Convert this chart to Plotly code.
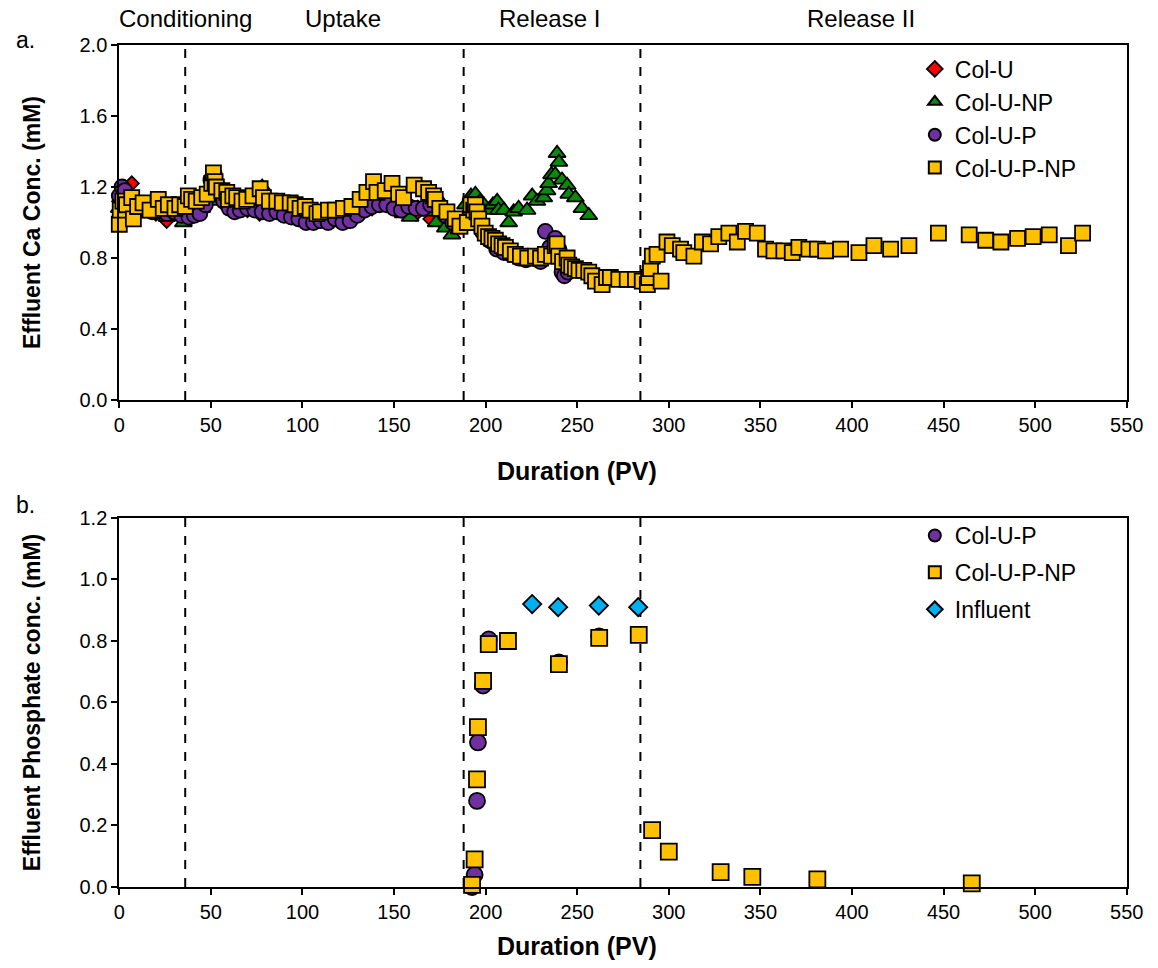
import plotly.graph_objects as go

# ---------------- Panel a: effluent Ca concentration ----------------
colu_x = [0, 3, 6.8, 10, 15, 20, 25.9, 30, 35, 40, 46, 52, 58, 64, 70, 76.6, 82, 90, 98,
          106, 114, 122, 130, 138, 146, 154, 162, 169.9, 176, 182, 187]
colu_y = [1.12, 1.15, 1.22, 1.10, 1.08, 1.05, 1.01, 1.05, 1.06, 1.08, 1.10, 1.15, 1.10, 1.08,
          1.07, 1.05, 1.06, 1.05, 1.04, 1.03, 1.02, 1.03, 1.05, 1.08, 1.10, 1.08, 1.05, 1.02,
          1.00, 0.98, 1.00]

colunp_x = [0, 3, 6, 10, 14, 18, 22, 26, 30, 35, 40, 45, 50, 55, 60, 65, 70, 75, 78, 82, 86,
            90, 95, 100, 105, 110, 115, 120, 125, 130, 135, 140, 145, 150, 155, 158.8, 163,
            168, 173, 178, 181.6, 185.4, 189, 192, 194.4, 197, 199, 201.6, 204, 206.3, 207,
            210, 212.6, 215.3, 218, 222.6, 225.4, 228, 231.7, 233.5, 234.4, 236, 238, 239,
            240, 241.7, 244.5, 245.4, 249, 252.6, 256.3]
colunp_y = [1.08, 1.10, 1.12, 1.06, 1.05, 1.07, 1.05, 1.03, 1.04, 1.00, 1.05, 1.08, 1.12, 1.15,
            1.10, 1.08, 1.10, 1.12, 1.20, 1.10, 1.08, 1.06, 1.05, 1.03, 1.02, 1.03, 1.04, 1.02,
            1.03, 1.05, 1.10, 1.12, 1.13, 1.10, 1.05, 1.03, 1.08, 1.06, 1.00, 0.97, 0.93, 0.96,
            1.10, 1.15, 1.16, 1.12, 1.10, 1.07, 1.10, 1.12, 1.07, 1.07, 1.00, 1.06, 1.08, 1.07,
            1.15, 1.12, 1.14, 1.18, 1.22, 1.27, 1.27, 1.39, 1.34, 1.24, 1.21, 1.16, 1.14, 1.08,
            1.04]

colup_x = [0, 1.5, 3, 5, 8, 11, 14, 18, 22, 26, 30, 34, 38, 41, 44, 47, 50, 52, 54, 57, 60,
           63, 66, 70, 74, 78, 82, 86, 90, 94, 98, 102, 106, 110, 114, 118, 122, 126, 130, 134,
           138, 142, 146, 150, 154, 158, 162, 166, 170, 174, 178, 182, 186, 190, 194, 198, 202,
           206, 210, 214, 218, 222, 226, 230, 232.6, 235, 238, 240, 241.7, 243, 245]
colup_y = [1.15, 1.20, 1.18, 1.12, 1.10, 1.08, 1.08, 1.06, 1.07, 1.05, 1.06, 1.04, 1.03, 1.04,
           1.05, 1.10, 1.24, 1.27, 1.20, 1.12, 1.08, 1.06, 1.07, 1.08, 1.07, 1.06, 1.05, 1.06,
           1.04, 1.03, 1.02, 1.00, 1.00, 1.01, 1.00, 1.02, 1.00, 1.01, 1.04, 1.07, 1.09, 1.10,
           1.10, 1.08, 1.07, 1.09, 1.08, 1.08, 1.10, 1.11, 1.04, 1.00, 0.98, 1.03, 1.00, 0.95,
           0.90, 0.85, 0.83, 0.82, 0.80, 0.79, 0.80, 0.78, 0.95, 0.86, 0.91, 0.85, 0.72, 0.70,
           0.72]

colupnp_x = [0, 0.5, 2, 4, 6.8, 7.7, 10, 13, 16.8, 21.3, 24, 26.8, 30.4, 33, 36, 37.7, 39.5,
             42, 45, 48, 50.5, 51.4, 52.3, 53, 56, 58.7, 59.6, 62, 64.1, 67, 69.6, 73, 76.9,
             78.7, 82, 86, 89, 93.3, 96, 98.7, 101.5, 104.2, 107.9, 109.7, 114.2, 117.9, 122.4,
             127, 131.5, 135.2, 138.8, 140.7, 145.2, 148.9, 152.5, 155.2, 161, 166.1, 168.9,
             171.6, 172.5, 175, 178.9, 183.4, 186, 190, 192, 193.5, 194.4, 195.3, 196.2, 198,
             199.8, 201.6, 203.5, 205.3, 207.1, 209, 210.8, 213.5, 216.2, 219, 223, 227.2, 230,
             232.6, 236, 238, 239, 239.9, 242, 244.5, 245.4, 247, 249, 251, 253.6, 256.3, 258,
             260, 263.6, 266, 268.1, 272.7, 277.3, 281.8, 285.5, 288.3, 289, 290, 291, 293.6,
             295.8, 299, 301.9, 306.4, 308.2, 313.7, 318.3, 322.8, 327.3, 332.8, 337.4, 341.9,
             348.3, 352.8, 357.4, 362.8, 367.4, 371, 376.5, 381.1, 385.6, 393.8, 403.8, 412,
             421.1, 431.1, 447.2, 464, 473, 481.3, 490.4, 498.9, 507.7, 518.2, 525.9]
colupnp_y = [0.99, 1.07, 1.12, 1.10, 1.14, 1.02, 1.09, 1.11, 1.07, 1.13, 1.08, 1.10, 1.08,
             1.10, 1.09, 1.15, 1.13, 1.12, 1.14, 1.16, 1.22, 1.28, 1.23, 1.20, 1.18, 1.17, 1.13,
             1.15, 1.14, 1.12, 1.13, 1.15, 1.19, 1.14, 1.12, 1.12, 1.11, 1.11, 1.10, 1.08, 1.09,
             1.07, 1.05, 1.06, 1.07, 1.07, 1.08, 1.09, 1.13, 1.17, 1.23, 1.17, 1.18, 1.22, 1.16,
             1.14, 1.21, 1.19, 1.17, 1.15, 1.13, 1.08, 1.06, 1.02, 0.98, 1.00, 1.10, 1.07, 1.10,
             1.06, 1.02, 0.98, 0.94, 0.92, 0.91, 0.90, 0.88, 0.87, 0.86, 0.84, 0.82, 0.81, 0.80,
             0.81, 0.80, 0.82, 0.81, 0.87, 0.88, 0.81, 0.78, 0.80, 0.76, 0.75, 0.74, 0.73, 0.73,
             0.72, 0.70, 0.67, 0.65, 0.69, 0.69, 0.68, 0.68, 0.68, 0.67, 0.65, 0.69, 0.74, 0.81,
             0.82, 0.67, 0.89, 0.87, 0.85, 0.83, 0.81, 0.89, 0.88, 0.92, 0.94, 0.89, 0.95, 0.94,
             0.85, 0.84, 0.84, 0.83, 0.86, 0.85, 0.85, 0.84, 0.85, 0.83, 0.87, 0.85, 0.87, 0.94,
             0.93, 0.90, 0.89, 0.91, 0.92, 0.93, 0.87, 0.94]

# ---------------- Panel b: effluent phosphate concentration ----------------
p_colup_x = [192.6, 194, 195.3, 195.8, 198.6, 201.7, 240, 262]
p_colup_y = [0.00, 0.04, 0.28, 0.47, 0.655, 0.805, 0.73, 0.815]

p_colupnp_x = [192.6, 194, 195.3, 195.8, 198.6, 201.7, 212.2, 240, 262, 283.6, 290.9, 300,
               328.3, 345.6, 381.1, 465.4]
p_colupnp_y = [0.007, 0.09, 0.35, 0.52, 0.67, 0.79, 0.80, 0.725, 0.81, 0.82, 0.185, 0.115,
               0.048, 0.033, 0.025, 0.012]

influent_x = [225.4, 239.6, 261.8, 283.3]
influent_y = [0.92, 0.91, 0.915, 0.91]

# Phase boundaries (PV) and phase names
phase_bounds = [36, 188, 284.5]
phase_names = ["Conditioning", "Uptake", "Release I", "Release II"]
phase_centers = [36, 122, 235, 405]

FONT = "Liberation Sans, Arial, sans-serif"
EDGE = dict(color="black", width=1.8)

fig = go.Figure()


def add_series(x, y, name, symbol, color, size, xa, ya, legend):
    fig.add_trace(go.Scatter(
        x=x, y=y, name=name, mode="markers", xaxis=xa, yaxis=ya,
        legend=legend, legendgroup=name, cliponaxis=False,
        marker=dict(symbol=symbol, color=color, size=size, line=EDGE),
    ))


add_series(colu_x, colu_y, "Col-U", "diamond", "#FF0000", 11, "x", "y", "legend")
add_series(colunp_x, colunp_y, "Col-U-NP", "triangle-up", "#0A8A0A", 15, "x", "y", "legend")
add_series(colup_x, colup_y, "Col-U-P", "circle", "#7030A0", 15, "x", "y", "legend")
add_series(colupnp_x, colupnp_y, "Col-U-P-NP", "square", "#FFC000", 15, "x", "y", "legend")

add_series(p_colup_x, p_colup_y, "Col-U-P", "circle", "#7030A0", 16, "x2", "y2", "legend2")
add_series(p_colupnp_x, p_colupnp_y, "Col-U-P-NP", "square", "#FFC000", 16, "x2", "y2", "legend2")
add_series(influent_x, influent_y, "Influent", "diamond", "#00B0F0", 14, "x2", "y2", "legend2")

# dashed phase boundaries in both panels
for xa, ya in (("x", "y"), ("x2", "y2")):
    for b in phase_bounds:
        fig.add_shape(type="line", xref=xa, yref=f"{ya} domain", x0=b, x1=b, y0=0, y1=1,
                      line=dict(color="black", width=2, dash="dash"), layer="below")

# phase names above panel a
for name, cx in zip(phase_names, phase_centers):
    fig.add_annotation(text=name, x=cx, xref="x", y=1 - 19 / 968, yref="paper",
                       yanchor="middle", showarrow=False,
                       font=dict(family=FONT, size=24, color="black"))

# panel letters
fig.add_annotation(text="a.", x=0.012, y=1 - 40 / 968, xref="paper", yref="paper",
                   showarrow=False, xanchor="left", yanchor="middle",
                   font=dict(family=FONT, size=23, color="black"))
fig.add_annotation(text="b.", x=0.012, y=1 - 505 / 968, xref="paper", yref="paper",
                   showarrow=False, xanchor="left", yanchor="middle",
                   font=dict(family=FONT, size=23, color="black"))

# x-axis titles
TITLE_FONT = dict(family=FONT, size=25, color="black")
fig.add_annotation(text="<b>Duration (PV)</b>", x=250, xref="x", y=1 - 471 / 968, yref="paper",
                   yanchor="middle", showarrow=False, font=TITLE_FONT)
fig.add_annotation(text="<b>Duration (PV)</b>", x=250, xref="x2", y=1 - 946 / 968,
                   yref="paper", yanchor="middle", showarrow=False, font=TITLE_FONT)

axis_common = dict(
    showline=True, linecolor="black", linewidth=2, mirror=True,
    ticks="outside", ticklen=6, tickwidth=1.5, tickcolor="black",
    showgrid=False, zeroline=False,
    tickfont=dict(family=FONT, size=20, color="black"),
    automargin=False,
)
yt = dict(family=FONT, size=23, color="black")

fig.update_layout(
    width=1158, height=968,
    margin=dict(l=0, r=0, t=0, b=0),
    paper_bgcolor="white", plot_bgcolor="white",
    showlegend=True,
    xaxis=dict(domain=[0.103, 0.973], range=[0, 550], dtick=50, tick0=0, anchor="y",
               **axis_common),
    yaxis=dict(domain=[0.5868, 0.9535], range=[0, 2.0], dtick=0.4, tick0=0, tickformat=".1f",
               anchor="x",
               title=dict(text="<b>Effluent Ca Conc. (mM)</b>", font=yt, standoff=32),
               **axis_common),
    xaxis2=dict(domain=[0.103, 0.973], range=[0, 550], dtick=50, tick0=0, anchor="y2",
                **axis_common),
    yaxis2=dict(domain=[0.0837, 0.4649], range=[0, 1.2], dtick=0.2, tick0=0, tickformat=".1f",
                anchor="x2",
                title=dict(text="<b>Effluent Phosphate conc. (mM)</b>", font=yt, standoff=32),
                **axis_common),
    legend=dict(x=0.79, y=0.951, xanchor="left", yanchor="top", bgcolor="rgba(0,0,0,0)",
                font=dict(family=FONT, size=23, color="black"), tracegroupgap=0,
                itemsizing="constant"),
    legend2=dict(x=0.79, y=0.469, xanchor="left", yanchor="top", bgcolor="rgba(0,0,0,0)",
                 font=dict(family=FONT, size=23, color="black"), tracegroupgap=4,
                 itemsizing="constant"),
)

fig.write_html("out.html")
